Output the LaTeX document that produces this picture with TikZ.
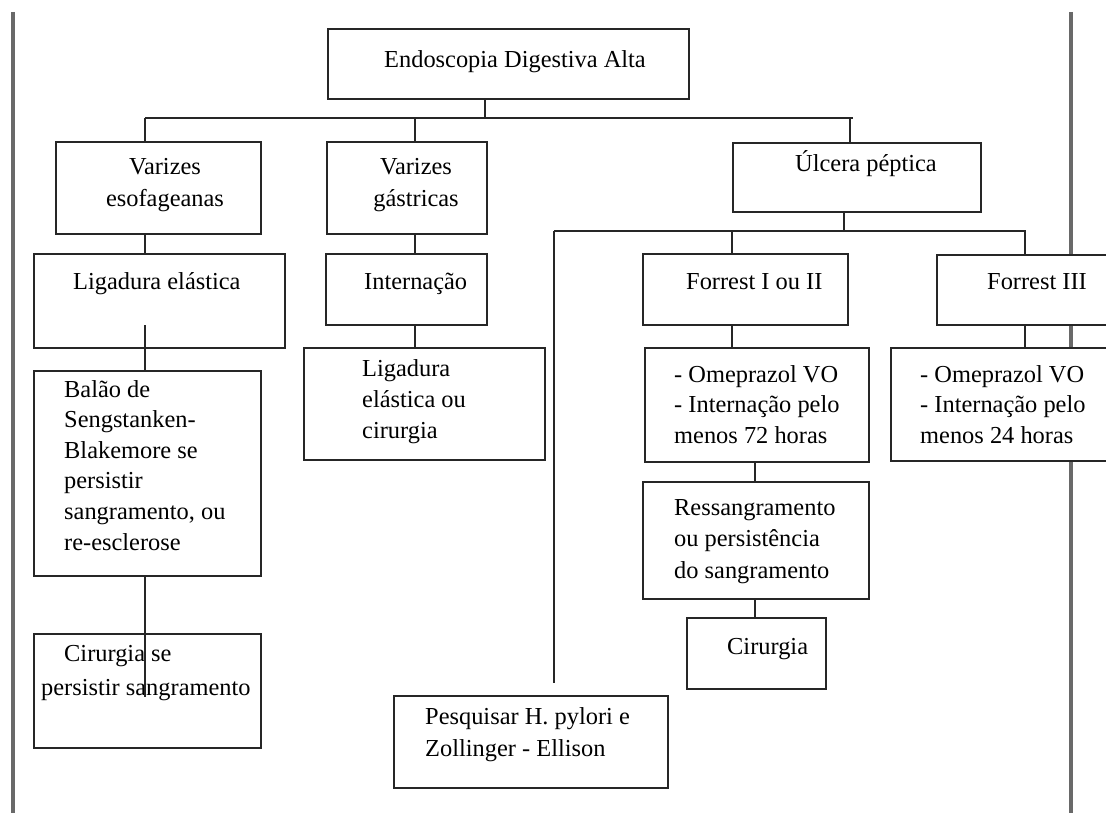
\documentclass[tikz,border=0pt]{standalone}
\usepackage{fontspec}
\setmainfont{Liberation Serif}
% stacked text lines: first baseline is the box baseline
\newcommand\linesL[2][31]{\vtop{\baselineskip=#1pt\halign{##\hfil\cr#2\crcr}}}
\newcommand\linesC[2][31]{\vtop{\baselineskip=#1pt\halign{\hfil##\hfil\cr#2\crcr}}}
\definecolor{rulegray}{RGB}{105,105,105}
\begin{document}
\begin{tikzpicture}[x=1pt,y=-1pt,
  box/.style={draw=black!85, line width=2.1pt, fill=white, rectangle, anchor=north west, inner sep=0pt},
  txt/.style={anchor=base west, inner sep=0pt, font=\fontsize{24.4}{31}\selectfont},
  ctxt/.style={txt, anchor=base},
  link/.style={draw=black!85, line width=2pt},
  rule/.style={draw=rulegray, line width=3.2pt}]
\useasboundingbox (0,0) rectangle (1106,813);

% page margin rules
\coordinate (rl1) at (13,12);   \coordinate (rl2) at (13,813);
\coordinate (rr1) at (1071,12); \coordinate (rr2) at (1071,813);
\draw[rule] (rl1) -- (rl2);
\draw[rule] (rr1) -- (rr2);

% boxes
\node[box, minimum width=361pt, minimum height=70pt]  (top)   at (327,28)  {};
\node[box, minimum width=205pt, minimum height=92pt]  (ve)    at (55,141)  {};
\node[box, minimum width=160pt, minimum height=92pt]  (vg)    at (326,141) {};
\node[box, minimum width=248pt, minimum height=69pt]  (ul)    at (732,142) {};
\node[box, minimum width=251pt, minimum height=94pt]  (le)    at (33,253)  {};
\node[box, minimum width=161pt, minimum height=71pt]  (int)   at (325,253) {};
\node[box, minimum width=241pt, minimum height=112pt] (lec)   at (303,347) {};
\node[box, minimum width=227pt, minimum height=205pt] (balao) at (33,370)  {};
\node[box, minimum width=227pt, minimum height=114pt] (cir1)  at (33,633)  {};
\node[box, minimum width=205pt, minimum height=71pt]  (f12)   at (642,253) {};
\node[box, minimum width=224pt, minimum height=114pt] (om72)  at (644,347) {};
\node[box, minimum width=226pt, minimum height=117pt] (res)   at (642,481) {};
\node[box, minimum width=139pt, minimum height=71pt]  (cir2)  at (686,617) {};
\node[box, minimum width=180pt, minimum height=70pt]  (f3)    at (936,254) {};
\node[box, minimum width=226pt, minimum height=113pt] (om24)  at (890,347) {};
\node[box, minimum width=274pt, minimum height=92pt]  (pes)   at (393,695) {};

% labels
\node[txt]  (t-top)  at (384,68)  {Endoscopia Digestiva Alta};
\node[ctxt] (t-ve)   at (165,175) {\linesC[32]{Varizes\cr esofageanas}};
\node[ctxt] (t-vg)   at (416,175) {\linesC[32]{Varizes\cr gástricas}};
\node[txt]  (t-ul)   at (795,172) {Úlcera péptica};
\node[txt]  (t-le)   at (73,290)  {Ligadura elástica};
\node[txt]  (t-int)  at (364,290) {Internação};
\node[txt]  (t-lec)  at (362,376) {\linesL{Ligadura\cr elástica ou\cr cirurgia}};
\node[txt]  (t-bal)  at (64,397)  {\linesL[30.6]{Balão de\cr Sengstanken-\cr Blakemore se\cr persistir\cr sangramento, ou\cr re-esclerose}};
\node[txt]  (t-cir1) at (41,661)  {\linesL[34]{\kern23pt Cirurgia se\cr persistir sangramento}};
\node[txt]  (t-f12)  at (686,289) {Forrest I ou II};
\node[txt]  (t-om72) at (674,382) {\linesL[30.5]{- Omeprazol VO\cr - Internação pelo\cr menos 72 horas}};
\node[txt]  (t-res)  at (674,515) {\linesL[31.5]{Ressangramento\cr ou persistência\cr do sangramento}};
\node[txt]  (t-cir2) at (727,654) {Cirurgia};
\node[txt]  (t-f3)   at (987,290) {Forrest III};
\node[txt]  (t-om24) at (920,382) {\linesL[30.5]{- Omeprazol VO\cr - Internação pelo\cr menos 24 horas}};
\node[txt]  (t-pes)  at (425,724) {\linesL[32]{Pesquisar H. pylori e\cr Zollinger - Ellison}};

% junction points
\coordinate (j0) at (485,118);
\coordinate (jA) at (145,118);
\coordinate (jB) at (415,118);
\coordinate (jC) at (850,118);
\coordinate (jE) at (853,118);
\coordinate (k0) at (844,231);
\coordinate (kA) at (554,231);
\coordinate (kB) at (732,231);
\coordinate (kC) at (1025,231);
\coordinate (kE) at (1026,231);
\coordinate (pz) at (554,683);
\coordinate (lx) at (145,325);
\coordinate (cz) at (145,697);
\coordinate (rx) at (755,470);

% connectors
\draw[link] (top.south -| j0) -- (j0);
\draw[link] (jA) -- (jE);
\draw[link] (jA) -- (jA |- ve.north);
\draw[link] (jB) -- (jB |- vg.north);
\draw[link] (jC) -- (jC |- ul.north);
\draw[link] (ul.south -| k0) -- (k0);
\draw[link] (kA) -- (kE);
\draw[link] (kB) -- (kB |- f12.north);
\draw[link] (kC) -- (kC |- f3.north);
\draw[link] (kA) -- (pz);
\draw[link] (ve.south -| jA) -- (jA |- le.north);
\draw[link] (lx) -- (lx |- balao.north);
\draw[link] (balao.south -| jA) -- (cz);
\draw[link] (vg.south -| jB) -- (jB |- int.north);
\draw[link] (int.south -| jB) -- (jB |- lec.north);
\draw[link] (f12.south -| kB) -- (kB |- om72.north);
\draw[link] (om72.south -| rx) -- (rx |- res.north);
\draw[link] (res.south -| rx) -- (rx |- cir2.north);
\draw[link] (f3.south -| kC) -- (kC |- om24.north);
\end{tikzpicture}
\end{document}
